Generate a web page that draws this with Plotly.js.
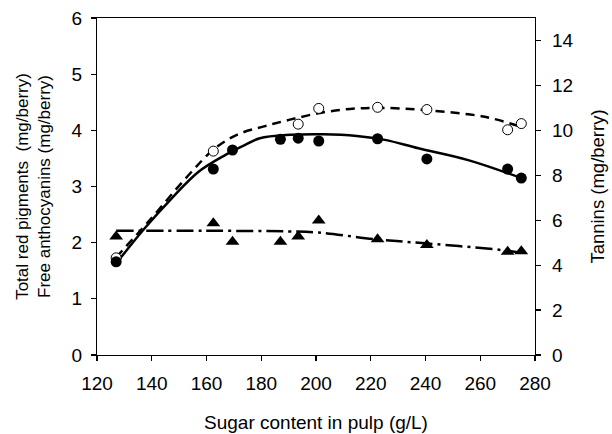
<!DOCTYPE html>
<html>
<head>
<meta charset="utf-8">
<script src="https://cdn.plot.ly/plotly-3.0.1.min.js"></script>
<style>html,body{margin:0;padding:0;background:#fff;}#chart{width:612px;height:434px;}</style>
</head>
<body>
<div id="chart"></div>
<script>
// Sugar content (g/L) for measured points
const sugar = [127, 162.5, 169.5, 187, 193.5, 201, 222.5, 240.5, 270, 275];
// Total red pigments (filled circles, mg/berry, left axis)
const totalRed = [1.66, 3.31, 3.65, 3.84, 3.86, 3.81, 3.85, 3.49, 3.31, 3.15];
// Free anthocyanins (open circles, mg/berry, left axis)
const sugarOpen = [127, 162.5, 193.5, 201, 222.5, 240.5, 270, 275];
const freeAntho = [1.73, 3.63, 4.11, 4.39, 4.41, 4.37, 4.01, 4.12];
// Tannins (triangles, mg/berry, right axis)
const tannins = [5.27, 5.86, 5.04, 5.04, 5.27, 5.99, 5.15, 4.90, 4.60, 4.62];

// Fitted curves
const fitSolidX = [127, 137.5, 147.3, 157, 166.8, 174.1, 179.5, 190.5, 202.6, 214.9, 225.2, 237.4, 255.6, 275];
const fitSolidY = [1.63, 2.26, 2.79, 3.26, 3.56, 3.74, 3.86, 3.92, 3.93, 3.90, 3.83, 3.68, 3.47, 3.15];
const fitDashX = [127, 138.7, 153.4, 163.1, 171.6, 181, 190.5, 201.5, 212.4, 223.4, 239.8, 261.7, 275];
const fitDashY = [1.74, 2.37, 3.20, 3.68, 3.93, 4.07, 4.19, 4.31, 4.38, 4.40, 4.36, 4.24, 4.06];
const fitTanX = [127, 160, 190, 201, 222, 240, 268, 275];
const fitTanY = [5.53, 5.53, 5.5, 5.45, 5.15, 4.97, 4.67, 4.55];

const xTicks = [120, 140, 160, 180, 200, 220, 240, 260, 280];
const yTicks = [0, 1, 2, 3, 4, 5, 6];
const y2Ticks = [0, 2, 4, 6, 8, 10, 12, 14];

const fam = 'Liberation Sans, Arial, sans-serif';
const f = (s) => ({family: fam, size: s, color: '#000'});

const traces = [
  {x: fitDashX, y: fitDashY, mode: 'lines', line: {color: '#000', width: 2.5, dash: '9px,6px', shape: 'spline'}, hoverinfo: 'skip'},
  {x: fitSolidX, y: fitSolidY, mode: 'lines', line: {color: '#000', width: 2.5, shape: 'spline'}, hoverinfo: 'skip'},
  {x: fitTanX, y: fitTanY, yaxis: 'y2', mode: 'lines', line: {color: '#000', width: 2.5, dash: '17px,5px,3px,5px', shape: 'spline'}, hoverinfo: 'skip'},
  {x: sugarOpen, y: freeAntho, mode: 'markers', marker: {symbol: 'circle', size: 10, color: '#fff', line: {color: '#000', width: 1}}},
  {x: sugar, y: totalRed, mode: 'markers', marker: {symbol: 'circle', size: 11, color: '#000'}},
  {x: sugar, y: tannins, yaxis: 'y2', mode: 'markers', marker: {symbol: 'triangle-up', size: 12, color: '#000'}}
];

const layout = {
  width: 612, height: 434,
  margin: {l: 97, r: 77, t: 18, b: 79},
  paper_bgcolor: '#fff', plot_bgcolor: '#fff',
  showlegend: false,
  font: f(18),
  xaxis: {
    range: [120, 280], tickvals: xTicks, ticktext: xTicks.map(String),
    showgrid: false, zeroline: false, showline: true, linecolor: '#000', linewidth: 1.2,
    mirror: true, ticks: 'outside', ticklen: 5, tickcolor: '#000', tickwidth: 1.2,
    ticklabelstandoff: 6,
    tickfont: f(19),
    title: {text: 'Sugar content in pulp (g/L)', font: f(19), standoff: 22}
  },
  yaxis: {
    range: [0, 6], tickvals: yTicks, ticktext: yTicks.map(String),
    showgrid: false, zeroline: false, showline: true, linecolor: '#000', linewidth: 1.2,
    ticks: 'outside', ticklen: 5, tickcolor: '#000', tickwidth: 1.2,
    ticklabelstandoff: 5,
    tickfont: f(19),
    title: {text: 'Total red pigments  (mg/berry)<br>Free anthocyanins (mg/berry)', font: f(17), standoff: 16}
  },
  yaxis2: {
    range: [0, 15], tickvals: y2Ticks, ticktext: y2Ticks.map(String), overlaying: 'y', side: 'right',
    showgrid: false, zeroline: false, showline: true, linecolor: '#000', linewidth: 1.2,
    ticks: 'outside', ticklen: 5, tickcolor: '#000', tickwidth: 1.2,
    ticklabelstandoff: 7,
    tickfont: f(19),
    title: {text: 'Tannins (mg/berry)', font: f(18.5), standoff: 18}
  }
};

Plotly.newPlot('chart', traces, layout, {displayModeBar: false, staticPlot: true});
</script>
</body>
</html>
